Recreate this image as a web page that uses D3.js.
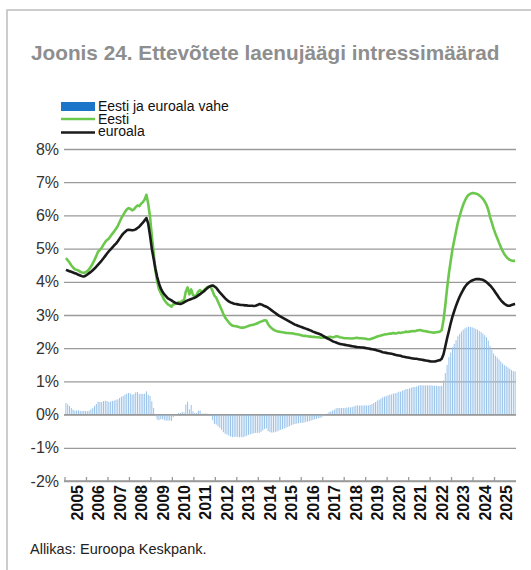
<!DOCTYPE html>
<html>
<head>
<meta charset="utf-8">
<script src="https://cdn.jsdelivr.net/npm/d3@7"></script>
<style>
  body { margin: 0; background: #fff; }
  svg { display: block; font-family: "Liberation Sans", Arial, Helvetica, sans-serif; }
</style>
</head>
<body>
<svg id="chart" width="531" height="570"></svg>
<script>
// tick labels (one per year), data is monthly from Jan 2005
var years = ["2005","2006","2007","2008","2009","2010","2011","2012","2013","2014",
             "2015","2016","2017","2018","2019","2020","2021","2022","2023","2024","2025"];

var yTicks = [-2, -1, 0, 1, 2, 3, 4, 5, 6, 7, 8];

// Eesti, monthly %
var eesti = [
  4.71, 4.65, 4.58, 4.50, 4.43, 4.38, 4.36, 4.34, 4.30, 4.28, 4.27, 4.29, // 2005
  4.32, 4.38, 4.46, 4.55, 4.66, 4.78, 4.91, 4.96, 5.02, 5.12, 5.20, 5.26, // 2006
  5.30, 5.38, 5.45, 5.52, 5.60, 5.68, 5.80, 5.92, 6.01, 6.10, 6.18, 6.22, // 2007
  6.20, 6.15, 6.18, 6.25, 6.30, 6.28, 6.35, 6.40, 6.48, 6.62, 6.35, 5.96, // 2008
  5.40, 4.90, 4.35, 4.00, 3.78, 3.66, 3.56, 3.45, 3.38, 3.32, 3.29, 3.25, // 2009
  3.32, 3.33, 3.36, 3.39, 3.38, 3.43, 3.44, 3.71, 3.83, 3.62, 3.77, 3.60, // 2010
  3.57, 3.60, 3.71, 3.75, 3.70, 3.74, 3.79, 3.84, 3.86, 3.84, 3.72, 3.58, // 2011
  3.52, 3.40, 3.28, 3.16, 3.03, 2.92, 2.85, 2.78, 2.72, 2.68, 2.67, 2.66, // 2012
  2.65, 2.63, 2.62, 2.62, 2.63, 2.65, 2.67, 2.69, 2.70, 2.71, 2.73, 2.75, // 2013
  2.78, 2.80, 2.82, 2.84, 2.83, 2.72, 2.65, 2.60, 2.56, 2.53, 2.51, 2.50, // 2014
  2.49, 2.48, 2.47, 2.46, 2.46, 2.45, 2.45, 2.44, 2.43, 2.42, 2.41, 2.40, // 2015
  2.38, 2.37, 2.37, 2.36, 2.35, 2.35, 2.34, 2.34, 2.33, 2.33, 2.32, 2.32, // 2016
  2.32, 2.33, 2.33, 2.34, 2.34, 2.33, 2.34, 2.36, 2.35, 2.33, 2.32, 2.31, // 2017
  2.30, 2.30, 2.30, 2.29, 2.29, 2.30, 2.31, 2.31, 2.30, 2.30, 2.29, 2.29, // 2018
  2.28, 2.27, 2.27, 2.29, 2.31, 2.33, 2.35, 2.37, 2.38, 2.40, 2.41, 2.42, // 2019
  2.43, 2.44, 2.44, 2.46, 2.44, 2.45, 2.47, 2.46, 2.47, 2.48, 2.50, 2.49, // 2020
  2.50, 2.51, 2.52, 2.51, 2.53, 2.54, 2.55, 2.53, 2.52, 2.51, 2.50, 2.49, // 2021
  2.48, 2.47, 2.47, 2.48, 2.49, 2.50, 2.55, 2.85, 3.30, 3.80, 4.25, 4.62, // 2022
  4.98, 5.25, 5.52, 5.78, 5.98, 6.16, 6.32, 6.45, 6.55, 6.62, 6.65, 6.67, // 2023
  6.67, 6.66, 6.64, 6.60, 6.56, 6.50, 6.42, 6.32, 6.17, 5.95, 5.78, 5.60, // 2024
  5.45, 5.32, 5.18, 5.05, 4.93, 4.83, 4.76, 4.70, 4.66, 4.64, 4.63, 4.63  // 2025
];

// euroala, monthly %
var euroala = [
  4.36, 4.34, 4.32, 4.30, 4.28, 4.26, 4.24, 4.21, 4.19, 4.17, 4.16, 4.18, // 2005
  4.22, 4.26, 4.30, 4.35, 4.40, 4.46, 4.52, 4.58, 4.64, 4.71, 4.78, 4.85, // 2006
  4.92, 4.98, 5.04, 5.10, 5.15, 5.22, 5.30, 5.38, 5.45, 5.50, 5.55, 5.57, // 2007
  5.56, 5.55, 5.56, 5.58, 5.62, 5.66, 5.72, 5.78, 5.85, 5.92, 5.75, 5.40, // 2008
  5.00, 4.70, 4.40, 4.15, 3.95, 3.80, 3.70, 3.62, 3.56, 3.50, 3.47, 3.44, // 2009
  3.40, 3.37, 3.35, 3.34, 3.33, 3.35, 3.38, 3.41, 3.44, 3.46, 3.48, 3.50, // 2010
  3.52, 3.55, 3.59, 3.63, 3.67, 3.71, 3.76, 3.81, 3.85, 3.88, 3.89, 3.86, // 2011
  3.82, 3.75, 3.68, 3.62, 3.56, 3.50, 3.45, 3.41, 3.38, 3.36, 3.34, 3.33, // 2012
  3.32, 3.31, 3.30, 3.30, 3.29, 3.29, 3.28, 3.28, 3.28, 3.27, 3.28, 3.30, // 2013
  3.33, 3.32, 3.30, 3.27, 3.25, 3.22, 3.18, 3.14, 3.10, 3.06, 3.02, 2.98, // 2014
  2.95, 2.92, 2.89, 2.86, 2.83, 2.80, 2.77, 2.74, 2.71, 2.69, 2.67, 2.65, // 2015
  2.63, 2.61, 2.59, 2.57, 2.55, 2.53, 2.50, 2.48, 2.46, 2.44, 2.42, 2.40, // 2016
  2.36, 2.33, 2.30, 2.27, 2.24, 2.21, 2.19, 2.17, 2.15, 2.13, 2.12, 2.11, // 2017
  2.10, 2.09, 2.08, 2.07, 2.06, 2.05, 2.04, 2.03, 2.03, 2.02, 2.02, 2.01, // 2018
  2.00, 1.99, 1.98, 1.97, 1.96, 1.95, 1.93, 1.92, 1.90, 1.88, 1.87, 1.86, // 2019
  1.85, 1.84, 1.83, 1.82, 1.80, 1.79, 1.78, 1.77, 1.75, 1.74, 1.73, 1.72, // 2020
  1.71, 1.70, 1.69, 1.68, 1.68, 1.67, 1.66, 1.65, 1.64, 1.63, 1.62, 1.61, // 2021
  1.60, 1.60, 1.60, 1.61, 1.63, 1.64, 1.68, 1.82, 2.05, 2.30, 2.52, 2.75, // 2022
  2.95, 3.12, 3.28, 3.42, 3.55, 3.66, 3.76, 3.85, 3.92, 3.97, 4.01, 4.04, // 2023
  4.06, 4.08, 4.08, 4.08, 4.07, 4.06, 4.03, 3.99, 3.94, 3.89, 3.83, 3.76, // 2024
  3.68, 3.60, 3.52, 3.45, 3.39, 3.34, 3.30, 3.28, 3.28, 3.30, 3.32, 3.33  // 2025
];

var seriesNames = ["Eesti ja euroala vahe", "Eesti", "euroala"];
var titleText = "Joonis 24. Ettevõtete laenujäägi intressimäärad";
var sourceText = "Allikas: Euroopa Keskpank.";

(function() {
var svg = d3.select("#chart");
var plotL = 65, plotR = 516, plotT = 149, plotB = 481;

var months = d3.range(eesti.length);
var vahe = months.map(function(i) { return +(eesti[i] - euroala[i]).toFixed(2); });

var x = d3.scaleBand().domain(months).range([plotL, plotR]).padding(0);
var y = d3.scaleLinear().domain([-2, 8]).range([plotB, plotT]);

// frame
svg.append("path")
  .attr("d", "M7,570 L7,10 L531,10")
  .attr("fill", "none")
  .attr("stroke", "#bdbdbd")
  .attr("stroke-width", 1.5);

// title
var title = svg.append("text")
  .attr("x", 31).attr("y", 60)
  .attr("fill", "#8e8e8e")
  .attr("font-weight", "bold")
  .attr("font-size", 20)
  .text(titleText);
var tl = title.node().getComputedTextLength();
title.attr("font-size", 20 * 469 / tl);

// gridlines + y labels
var yAxis = svg.append("g").attr("transform", "translate(" + (plotL - 1) + ",0)")
  .call(d3.axisRight(y).tickValues(yTicks).tickSize(plotR - plotL + 1)
        .tickFormat(function(d) { return d + "%"; }));
yAxis.select(".domain").remove();
yAxis.selectAll(".tick line").attr("stroke", "#9a9a9a").attr("stroke-width", 1.3);
yAxis.selectAll(".tick text")
  .attr("x", -5).attr("text-anchor", "end")
  .attr("font-size", 16).attr("fill", "#333")
  .attr("font-family", "Liberation Sans, Arial, sans-serif");

// bars: difference
svg.append("g").selectAll("rect")
  .data(months)
  .enter().append("rect")
    .attr("x", function(i) { return x(i) + 0.4; })
    .attr("width", 1)
    .attr("y", function(i) { return y(Math.max(0, vahe[i])); })
    .attr("height", function(i) { return Math.abs(y(vahe[i]) - y(0)); })
    .attr("fill", "#98c2ea");

// zero line over bars
svg.append("line")
  .attr("x1", plotL - 1).attr("x2", plotR)
  .attr("y1", y(0)).attr("y2", y(0))
  .attr("stroke", "#9a9a9a").attr("stroke-width", 1.3);

var line = function(arr) {
  return d3.line()
    .x(function(i) { return x(i) + x.bandwidth() / 2; })
    .y(function(i) { return y(arr[i]); })(months);
};

svg.append("path").attr("d", line(eesti))
  .attr("fill", "none").attr("stroke", "#6cc84d").attr("stroke-width", 2.6)
  .attr("stroke-linejoin", "round");
svg.append("path").attr("d", line(euroala))
  .attr("fill", "none").attr("stroke", "#1a1a1a").attr("stroke-width", 2.6)
  .attr("stroke-linejoin", "round");

// x axis with ticks at each year start
var yearX = function(k) { return x(k * 12); };
svg.append("line")
  .attr("x1", plotL - 1).attr("x2", plotR)
  .attr("y1", plotB).attr("y2", plotB)
  .attr("stroke", "#9a9a9a").attr("stroke-width", 1.3);
svg.append("g").selectAll("line")
  .data(years)
  .enter().append("line")
    .attr("x1", function(d, k) { return yearX(k); })
    .attr("x2", function(d, k) { return yearX(k); })
    .attr("y1", plotB).attr("y2", plotB - 4)
    .attr("stroke", "#9a9a9a").attr("stroke-width", 1.3);
svg.append("g").selectAll("text")
  .data(years)
  .enter().append("text")
    .attr("transform", function(d, k) {
      return "translate(" + (yearX(k) + 12) + "," + (plotB + 4) + ") rotate(-90)";
    })
    .attr("dy", "0.35em")
    .attr("text-anchor", "end")
    .attr("font-size", 16)
    .attr("font-weight", "bold")
    .attr("fill", "#111")
    .text(function(d) { return d; });

// legend
var legend = svg.append("g").attr("font-size", 14).attr("fill", "#111");
legend.append("rect").attr("x", 61).attr("y", 102).attr("width", 34).attr("height", 9)
  .attr("fill", "#1b76c9");
legend.append("line").attr("x1", 61).attr("x2", 95).attr("y1", 119).attr("y2", 119)
  .attr("stroke", "#6cc84d").attr("stroke-width", 2.6);
legend.append("line").attr("x1", 61).attr("x2", 95).attr("y1", 132.5).attr("y2", 132.5)
  .attr("stroke", "#1a1a1a").attr("stroke-width", 2.6);
legend.selectAll("text")
  .data(seriesNames)
  .enter().append("text")
    .attr("x", 98)
    .attr("y", function(d, i) { return 111 + i * 12.6; })
    .text(function(d) { return d; });

// source
svg.append("text")
  .attr("x", 30).attr("y", 554)
  .attr("font-size", 14.5).attr("fill", "#222")
  .text(sourceText);
})();
</script>
</body>
</html>
